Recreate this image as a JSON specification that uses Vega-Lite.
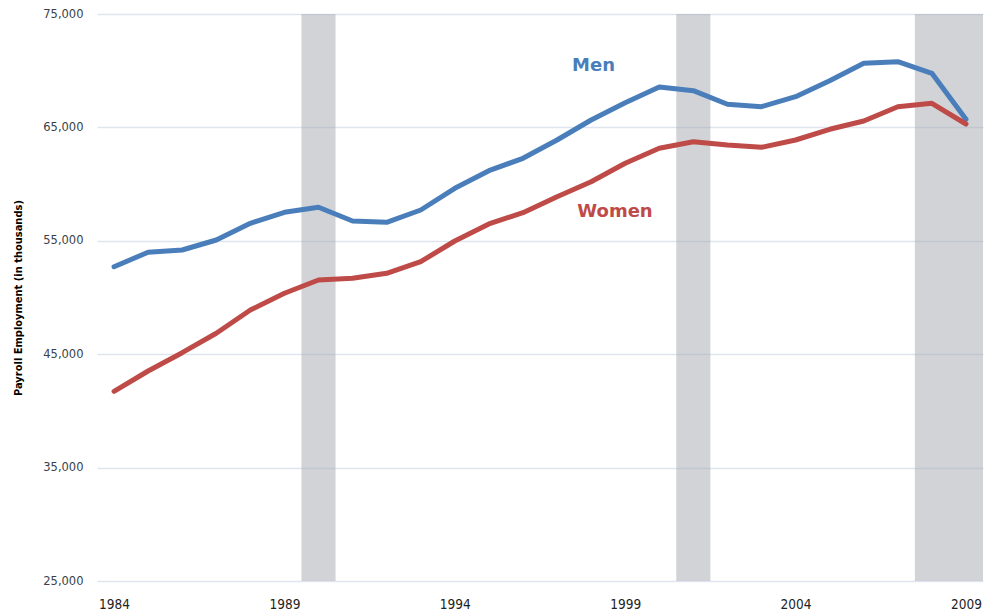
{
  "$schema": "https://vega.github.io/schema/vega-lite/v6.json",
  "width": 886,
  "height": 567,
  "autosize": {"type": "none"},
  "padding": {"left": 97, "top": 14, "right": 2, "bottom": 33},
  "background": "white",
  "config": {"view": {"stroke": null}},
  "datasets": {
    "bands": [
      {"start": 1989.5, "end": 1990.5},
      {"start": 2000.5, "end": 2001.5},
      {"start": 2007.5, "end": 2009.5}
    ],
    "emp": [
      {"year": 1984, "series": "Men", "value": 52717},
      {"year": 1985, "series": "Men", "value": 53987},
      {"year": 1986, "series": "Men", "value": 54190},
      {"year": 1987, "series": "Men", "value": 55071},
      {"year": 1988, "series": "Men", "value": 56544},
      {"year": 1989, "series": "Men", "value": 57514},
      {"year": 1990, "series": "Men", "value": 57955},
      {"year": 1991, "series": "Men", "value": 56747},
      {"year": 1992, "series": "Men", "value": 56632},
      {"year": 1993, "series": "Men", "value": 57717},
      {"year": 1994, "series": "Men", "value": 59630},
      {"year": 1995, "series": "Men", "value": 61182},
      {"year": 1996, "series": "Men", "value": 62276},
      {"year": 1997, "series": "Men", "value": 63889},
      {"year": 1998, "series": "Men", "value": 65653},
      {"year": 1999, "series": "Men", "value": 67178},
      {"year": 2000, "series": "Men", "value": 68563},
      {"year": 2001, "series": "Men", "value": 68237},
      {"year": 2002, "series": "Men", "value": 67037},
      {"year": 2003, "series": "Men", "value": 66826},
      {"year": 2004, "series": "Men", "value": 67707},
      {"year": 2005, "series": "Men", "value": 69118},
      {"year": 2006, "series": "Men", "value": 70653},
      {"year": 2007, "series": "Men", "value": 70794},
      {"year": 2008, "series": "Men", "value": 69771},
      {"year": 2009, "series": "Men", "value": 65715},
      {"year": 1984, "series": "Women", "value": 41730},
      {"year": 1985, "series": "Women", "value": 43520},
      {"year": 1986, "series": "Women", "value": 45134},
      {"year": 1987, "series": "Women", "value": 46844},
      {"year": 1988, "series": "Women", "value": 48899},
      {"year": 1989, "series": "Women", "value": 50371},
      {"year": 1990, "series": "Women", "value": 51544},
      {"year": 1991, "series": "Women", "value": 51694},
      {"year": 1992, "series": "Women", "value": 52135},
      {"year": 1993, "series": "Women", "value": 53158},
      {"year": 1994, "series": "Women", "value": 54983},
      {"year": 1995, "series": "Women", "value": 56482},
      {"year": 1996, "series": "Women", "value": 57479},
      {"year": 1997, "series": "Women", "value": 58890},
      {"year": 1998, "series": "Women", "value": 60212},
      {"year": 1999, "series": "Women", "value": 61835},
      {"year": 2000, "series": "Women", "value": 63157},
      {"year": 2001, "series": "Women", "value": 63739},
      {"year": 2002, "series": "Women", "value": 63448},
      {"year": 2003, "series": "Women", "value": 63246},
      {"year": 2004, "series": "Women", "value": 63889},
      {"year": 2005, "series": "Women", "value": 64833},
      {"year": 2006, "series": "Women", "value": 65565},
      {"year": 2007, "series": "Women", "value": 66826},
      {"year": 2008, "series": "Women", "value": 67125},
      {"year": 2009, "series": "Women", "value": 65300}
    ],
    "labels": [
      {"year": 1998.07, "value": 70415, "series": "Men"},
      {"year": 1998.7, "value": 57540, "series": "Women"}
    ]
  },
  "layer": [
    {
      "data": {"name": "bands"},
      "mark": {"type": "rect", "color": "#a3a7b0", "opacity": 0.5},
      "encoding": {
        "x": {
          "field": "start",
          "type": "quantitative",
          "scale": {"domain": [1983.5, 2009.5], "nice": false, "zero": false},
          "axis": {
            "values": [1984, 1989, 1994, 1999, 2004, 2009],
            "format": "d",
            "title": null,
            "grid": false,
            "ticks": false,
            "domain": false,
            "labelFlush": false,
            "labelPadding": 16,
            "labelFont": "DejaVu Sans Condensed",
            "labelFontSize": 13.5,
            "labelColor": "#222222"
          }
        },
        "x2": {"field": "end"}
      }
    },
    {
      "data": {"name": "emp"},
      "mark": {"type": "line", "strokeWidth": 5, "strokeJoin": "round", "strokeCap": "round"},
      "encoding": {
        "x": {"field": "year", "type": "quantitative"},
        "y": {
          "field": "value",
          "type": "quantitative",
          "scale": {"domain": [25000, 75000], "nice": false, "zero": false},
          "axis": {
            "values": [25000, 35000, 45000, 55000, 65000, 75000],
            "format": ",.0f",
            "title": "Payroll Employment (in thousands)",
            "titleFont": "DejaVu Sans Condensed",
            "titleFontSize": 11,
            "titleFontWeight": "bold",
            "titleColor": "#000000",
            "titlePadding": 19,
            "grid": true,
            "gridColor": "#dfe5ef",
            "gridWidth": 1.5,
            "ticks": false,
            "domain": false,
            "labelPadding": 14,
            "labelFont": "DejaVu Sans",
            "labelFontSize": 11.5,
            "labelColor": "#3a3f48"
          }
        },
        "color": {
          "field": "series",
          "type": "nominal",
          "scale": {"domain": ["Men", "Women"], "range": ["#4a7ebb", "#be4b48"]},
          "legend": null
        }
      }
    },
    {
      "data": {"name": "labels"},
      "mark": {"type": "text", "font": "DejaVu Sans", "fontSize": 18, "fontWeight": "bold", "align": "center", "baseline": "middle"},
      "encoding": {
        "x": {"field": "year", "type": "quantitative"},
        "y": {"field": "value", "type": "quantitative"},
        "text": {"field": "series"},
        "color": {"field": "series", "type": "nominal", "legend": null}
      }
    }
  ]
}
